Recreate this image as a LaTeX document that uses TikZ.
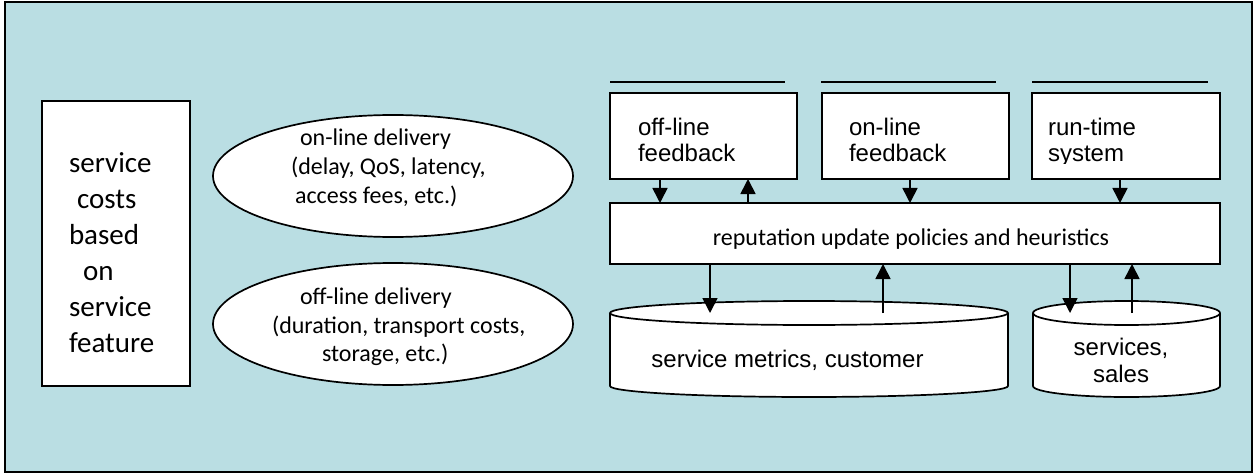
\documentclass[tikz,border=0pt]{standalone}
\usepackage{fontspec}
\setmainfont{Carlito}
\newfontfamily\arialf{Liberation Sans}
\usetikzlibrary{arrows.meta,shapes.geometric}
\definecolor{panel}{RGB}{186,222,227}

\begin{document}
\begin{tikzpicture}[x=1pt,y=-1pt,
  every node/.style={inner sep=0pt, outer sep=0pt},
  whitebox/.style={draw, fill=white, line width=2pt, anchor=north west},
  oval/.style={draw, fill=white, ellipse, line width=1.7pt},
  arr/.style={line width=1.6pt, -{Triangle[length=15pt,width=15pt]}},
  bigtext/.style={font=\fontsize{29}{36}\selectfont, align=left, anchor=base west},
  ovaltext/.style={font=\fontsize{24}{28.5}\selectfont, align=left, anchor=base west},
  sanstext/.style={font=\arialf\fontsize{24}{26.5}\selectfont, align=left, anchor=base west},
]
\useasboundingbox (0,0) rectangle (1257,473);

% panel
\draw[line width=2.2pt, fill=panel] (5,2) rectangle (1252,472);

% cost box (multi-line texts are placed by the baseline of their last line)
\node[whitebox, minimum width=148pt, minimum height=285pt] (cost) at (42,101) {};
\node[bigtext] (costtext) at (69,352)
  {service\\\hspace*{8pt}costs\\based\\\hspace*{14pt}on\\service\\feature};

% delivery ellipses
\node[oval, minimum width=360pt, minimum height=122pt] (online) at (393,176) {};
\node[ovaltext] (onlinetext) at (291,203)
  {\hspace*{9pt}on-line delivery\\(delay, QoS, latency,\\\hspace*{4pt}access fees, etc.)};
\node[oval, minimum width=360pt, minimum height=122pt] (offline) at (393,324) {};
\node[ovaltext] (offlinetext) at (272,361.5)
  {\hspace*{28pt}off-line delivery\\(duration, transport costs,\\\hspace*{50pt}storage, etc.)};

% feedback sources
\node[whitebox, minimum width=187pt, minimum height=86pt] (b1) at (610,93) {};
\node[whitebox, minimum width=187pt, minimum height=86pt] (b2) at (822,93) {};
\node[whitebox, minimum width=188pt, minimum height=86pt] (b3) at (1032,93) {};
\draw[line width=1.7pt] ([yshift=11pt]b1.north west) -- ++(175,0);
\draw[line width=1.7pt] ([yshift=11pt,xshift=-1pt]b2.north west) -- ++(175,0);
\draw[line width=1.7pt] ([yshift=11pt]b3.north west) -- ++(176,0);
\node[sanstext] (t1) at (638,162) {off-line\\feedback};
\node[sanstext] (t2) at (849,162) {on-line\\feedback};
\begin{scope}
  \clip (1032,93) rectangle (1220,163.5);
  \node[sanstext] (t3) at (1048,162) {run-time\\system};
\end{scope}

% update policies
\node[whitebox, minimum width=610pt, minimum height=61pt] (rep) at (610,203) {};
\node[font=\fontsize{24}{28}\selectfont, anchor=base] (reptext) at (911,245)
  {reputation update policies and heuristics};

% data stores
\path[fill=white, draw, line width=1.7pt] (610,313) -- (610,386)
  arc[start angle=180, end angle=0, x radius=199, y radius=11] -- (1008,313);
\draw[fill=white, line width=1.7pt] (809,313) ellipse[x radius=199, y radius=12];
\coordinate (db1) at (809,313);
\node[sanstext, anchor=base] (db1text) at (787.5,367) {service metrics, customer};

\path[fill=white, draw, line width=1.7pt] (1033,313) -- (1033,386)
  arc[start angle=180, end angle=0, x radius=93.5, y radius=11] -- (1220,313);
\draw[fill=white, line width=1.7pt] (1126.5,313) ellipse[x radius=93.5, y radius=12];
\coordinate (db2) at (1126.5,313);
\node[sanstext, align=center, anchor=base] (db2text) at (1121,382) {services,\\sales};

% connectors
\coordinate (a1) at (660,0);
\coordinate (a2) at (748,0);
\coordinate (a3) at (910,0);
\coordinate (a4) at (1120,0);
\coordinate (a5) at (710,0);
\coordinate (a6) at (883,0);
\coordinate (a7) at (1070,0);
\coordinate (a8) at (1132,0);
\draw[arr] (b1.south -| a1) -- (rep.north -| a1);
\draw[arr] (rep.north -| a2) -- (b1.south -| a2);
\draw[arr] (b2.south -| a3) -- (rep.north -| a3);
\draw[arr] (b3.south -| a4) -- (rep.north -| a4);
\draw[arr] (rep.south -| a5) -- (db1 -| a5);
\draw[arr] (db1 -| a6) -- (rep.south -| a6);
\draw[arr] (rep.south -| a7) -- (db2 -| a7);
\draw[arr] (db2 -| a8) -- (rep.south -| a8);
\end{tikzpicture}
\end{document}
